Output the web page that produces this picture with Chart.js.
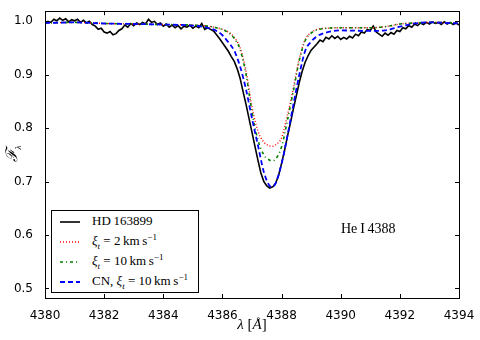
<!DOCTYPE html>
<html lang="en">
<head>
<meta charset="UTF-8" />
<title>He I 4388 profile</title>
<script src="https://cdn.jsdelivr.net/npm/chart.js@4.4.1/dist/chart.umd.min.js"></script>
<style>
  * { box-sizing: border-box; }
  body { margin: 0; background: #fff; }
  .wrap { position: relative; width: 480px; height: 340px; }
  .serif { font-family: "Liberation Serif", "DejaVu Serif", serif; color: #000; }
  .legend { position: absolute; left: 51px; top: 210px; width: 148px; height: 83px; border: 1px solid #000; background: #fff; }
  .row { position: absolute; left: 0; height: 20px; width: 146px; }
  .row svg { position: absolute; left: 8px; top: 4px; }
  .row span { position: absolute; left: 40px; top: 1px; font-size: 13px; white-space: nowrap; }
  sub, sup { font-size: 9px; line-height: 0; }
  .note { position: absolute; left: 341px; top: 221px; font-size: 14px; }
  .ylab { position: absolute; left: 0px; top: 142px; width: 24px; height: 24px; transform: rotate(-90deg); font-size: 16px; text-align: center; }
  .xlab { position: absolute; left: 226px; top: 316px; width: 52px; text-align: center; font-size: 15px; }
</style>
</head>
<body>
<div class="wrap">
  <canvas id="chart" width="480" height="340"></canvas>

  <div class="legend serif">
    <div class="row" style="top:1px"><svg width="22" height="12"><line x1="0" y1="6" x2="20" y2="6" stroke="#000" stroke-width="1.6"/></svg><span>HD&#8201;163899</span></div>
    <div class="row" style="top:21px"><svg width="22" height="12"><line x1="0" y1="6" x2="20" y2="6" stroke="#ff0000" stroke-width="1.4" stroke-dasharray="1 2"/></svg><span><i>ξ<sub>t</sub></i> = 2&#8201;km&#8201;s<sup>−1</sup></span></div>
    <div class="row" style="top:41px"><svg width="22" height="12"><line x1="0" y1="6" x2="20" y2="6" stroke="#008000" stroke-width="1.6" stroke-dasharray="3 3 1 3"/></svg><span><i>ξ<sub>t</sub></i> = 10&#8201;km&#8201;s<sup>−1</sup></span></div>
    <div class="row" style="top:61px"><svg width="22" height="12"><line x1="0" y1="6" x2="20" y2="6" stroke="#0000ff" stroke-width="1.8" stroke-dasharray="5 3"/></svg><span>CN, <i>ξ<sub>t</sub></i> = 10&#8201;km&#8201;s<sup>−1</sup></span></div>
  </div>

  <div class="note serif">He&#8201;I&#8201;4388</div>
  <div class="ylab serif"><i>ℱ<sub>λ</sub></i></div>
  <div class="xlab serif"><i>λ</i> [<i>Å</i>]</div>
</div>

<script>
  // observed spectrum, HD 163899 (0.1 A sampling)
  const obsWave = [
    4380.0, 4380.1, 4380.2, 4380.3, 4380.4, 4380.5, 4380.6, 4380.7, 4380.8, 4380.9,
    4381.0, 4381.1, 4381.2, 4381.3, 4381.4, 4381.5, 4381.6, 4381.7, 4381.8, 4381.9,
    4382.0, 4382.1, 4382.2, 4382.3, 4382.4, 4382.5, 4382.6, 4382.7, 4382.8, 4382.9,
    4383.0, 4383.1, 4383.2, 4383.3, 4383.4, 4383.5, 4383.6, 4383.7, 4383.8, 4383.9,
    4384.0, 4384.1, 4384.2, 4384.3, 4384.4, 4384.5, 4384.6, 4384.7, 4384.8, 4384.9,
    4385.0, 4385.1, 4385.2, 4385.3, 4385.4, 4385.5, 4385.6, 4385.7, 4385.8, 4385.9,
    4386.0, 4386.1, 4386.2, 4386.3, 4386.4, 4386.5, 4386.6, 4386.7, 4386.8, 4386.9,
    4387.0, 4387.1, 4387.2, 4387.3, 4387.4, 4387.5, 4387.6, 4387.7, 4387.8, 4387.9,
    4388.0, 4388.1, 4388.2, 4388.3, 4388.4, 4388.5, 4388.6, 4388.7, 4388.8, 4388.9,
    4389.0, 4389.1, 4389.2, 4389.3, 4389.4, 4389.5, 4389.6, 4389.7, 4389.8, 4389.9,
    4390.0, 4390.1, 4390.2, 4390.3, 4390.4, 4390.5, 4390.6, 4390.7, 4390.8, 4390.9,
    4391.0, 4391.1, 4391.2, 4391.3, 4391.4, 4391.5, 4391.6, 4391.7, 4391.8, 4391.9,
    4392.0, 4392.1, 4392.2, 4392.3, 4392.4, 4392.5, 4392.6, 4392.7, 4392.8, 4392.9,
    4393.0, 4393.1, 4393.2, 4393.3, 4393.4, 4393.5, 4393.6, 4393.7, 4393.8, 4393.9,
    4394.0
  ];
  const obsFlux = [
    0.996, 1.000, 0.998, 1.004, 1.001, 1.006, 1.002, 1.005, 0.999, 1.003,
    1.001, 1.004, 0.998, 1.002, 0.997, 1.000, 0.994, 0.991, 0.985, 0.987,
    0.980, 0.978, 0.981, 0.975, 0.977, 0.983, 0.986, 0.993, 0.989, 0.996,
    0.992, 0.997, 0.994, 0.998, 0.995, 1.004, 0.998, 1.000, 0.994, 0.997,
    0.991, 0.995, 0.989, 0.993, 0.988, 0.992, 0.986, 0.991, 0.989, 0.993,
    0.987, 0.991, 0.988, 0.996, 0.985, 0.988, 0.985, 0.982, 0.975, 0.968,
    0.960, 0.952, 0.944, 0.934, 0.925, 0.911, 0.893, 0.868, 0.844, 0.818,
    0.792, 0.766, 0.740, 0.716, 0.700, 0.692, 0.688, 0.690, 0.697, 0.712,
    0.734, 0.758, 0.785, 0.810, 0.836, 0.861, 0.886, 0.907, 0.924, 0.936,
    0.946, 0.952, 0.958, 0.965, 0.962, 0.970, 0.967, 0.973, 0.968, 0.972,
    0.966, 0.970, 0.967, 0.972, 0.969, 0.976, 0.973, 0.980, 0.978, 0.985,
    0.983, 0.991, 0.980, 0.976, 0.972, 0.978, 0.974, 0.979, 0.976, 0.983,
    0.981, 0.988, 0.986, 0.992, 0.989, 0.995, 0.992, 0.997, 0.994, 0.998,
    0.995, 0.999, 0.996, 0.998, 0.994, 0.999, 0.995, 0.998, 0.994, 0.997,
    0.993
  ];

  // synthetic profiles share one wavelength grid
  const modelWave = [
    4380.0, 4381.0, 4382.0, 4383.0, 4384.0, 4385.0, 4385.5, 4385.8, 4386.0, 4386.2,
    4386.4, 4386.6, 4386.8, 4387.0, 4387.2, 4387.4, 4387.6, 4387.7, 4387.8, 4388.0,
    4388.2, 4388.4, 4388.6, 4388.8, 4389.0, 4389.2, 4389.5, 4390.0, 4391.0, 4391.5,
    4392.0, 4392.5, 4393.0, 4394.0
  ];
  const xi2Flux = [
    0.997, 0.998, 0.996, 0.995, 0.994, 0.993, 0.991, 0.988, 0.985, 0.980,
    0.970, 0.950, 0.906, 0.840, 0.795, 0.774, 0.767, 0.766, 0.769, 0.782,
    0.825, 0.875, 0.930, 0.966, 0.979, 0.985, 0.987, 0.988, 0.988, 0.990,
    0.995, 0.997, 0.998, 0.997
  ];
  const xi10Flux = [
    0.997, 0.998, 0.996, 0.995, 0.994, 0.993, 0.991, 0.988, 0.985, 0.979,
    0.968, 0.947, 0.900, 0.830, 0.778, 0.750, 0.740, 0.739, 0.742, 0.765,
    0.815, 0.870, 0.927, 0.964, 0.978, 0.984, 0.987, 0.988, 0.988, 0.990,
    0.995, 0.997, 0.998, 0.997
  ];
  const cnFlux = [
    0.997, 0.998, 0.996, 0.995, 0.994, 0.992, 0.988, 0.982, 0.974, 0.961,
    0.945, 0.915, 0.872, 0.818, 0.768, 0.718, 0.692, 0.690, 0.697, 0.733,
    0.786, 0.844, 0.900, 0.945, 0.962, 0.972, 0.979, 0.983, 0.982, 0.983,
    0.990, 0.996, 0.998, 0.996
  ];

  const xTickValues = [4380, 4382, 4384, 4386, 4388, 4390, 4392, 4394];
  const yTickValues = [0.5, 0.6, 0.7, 0.8, 0.9, 1.0];

  function pts(wave, flux) {
    return wave.map((w, i) => ({ x: w, y: flux[i] }));
  }

  // matplotlib-style frame with inward ticks on all four sides
  const frame = {
    id: 'frame',
    afterDraw(chart) {
      const { ctx, chartArea: a, scales } = chart;
      ctx.save();
      ctx.strokeStyle = '#000';
      ctx.lineWidth = 1;
      ctx.beginPath();
      xTickValues.forEach((v) => {
        const px = Math.round(scales.x.getPixelForValue(v)) + 0.5;
        ctx.moveTo(px, a.bottom); ctx.lineTo(px, a.bottom - 4);
        ctx.moveTo(px, a.top); ctx.lineTo(px, a.top + 4);
      });
      yTickValues.forEach((v) => {
        const py = Math.round(scales.y.getPixelForValue(v)) + 0.5;
        ctx.moveTo(a.left, py); ctx.lineTo(a.left + 4, py);
        ctx.moveTo(a.right, py); ctx.lineTo(a.right - 4, py);
      });
      ctx.stroke();
      ctx.strokeRect(Math.round(a.left) + 0.5, Math.round(a.top) + 0.5,
        Math.round(a.right - a.left), Math.round(a.bottom - a.top));
      ctx.restore();
    }
  };

  Chart.defaults.color = '#000';
  Chart.defaults.font.family = '"DejaVu Sans", sans-serif';
  Chart.defaults.font.size = 12;

  new Chart(document.getElementById('chart'), {
    type: 'line',
    data: {
      datasets: [
        { label: 'HD 163899', data: pts(obsWave, obsFlux), borderColor: '#000', borderWidth: 1.6, tension: 0, order: 4 },
        { label: 'xi_t = 2 km/s', data: pts(modelWave, xi2Flux), borderColor: '#ff0000', borderWidth: 1.4, borderDash: [1, 2], cubicInterpolationMode: 'monotone', order: 3 },
        { label: 'xi_t = 10 km/s', data: pts(modelWave, xi10Flux), borderColor: '#008000', borderWidth: 1.6, borderDash: [3, 3, 1, 3], cubicInterpolationMode: 'monotone', order: 2 },
        { label: 'CN, xi_t = 10 km/s', data: pts(modelWave, cnFlux), borderColor: '#0000ff', borderWidth: 1.8, borderDash: [5, 3], cubicInterpolationMode: 'monotone', order: 1 }
      ]
    },
    options: {
      responsive: false,
      animation: false,
      parsing: false,
      elements: { point: { radius: 0 } },
      layout: { padding: { left: 0, right: 21, top: 5, bottom: 0 } },
      plugins: { legend: { display: false }, tooltip: { enabled: false } },
      scales: {
        x: {
          type: 'linear', min: 4380, max: 4394,
          grid: { display: false }, border: { display: false },
          afterBuildTicks: (s) => { s.ticks = xTickValues.map((v) => ({ value: v })); },
          afterFit: (s) => { s.height = 42; },
          ticks: { padding: 3, callback: (v) => String(v) }
        },
        y: {
          type: 'linear', min: 0.482, max: 1.019,
          grid: { display: false }, border: { display: false },
          afterBuildTicks: (s) => { s.ticks = yTickValues.map((v) => ({ value: v })); },
          afterFit: (s) => { s.width = 45; },
          ticks: { padding: 4, callback: (v) => v.toFixed(1) }
        }
      }
    },
    plugins: [frame]
  });
</script>
</body>
</html>
